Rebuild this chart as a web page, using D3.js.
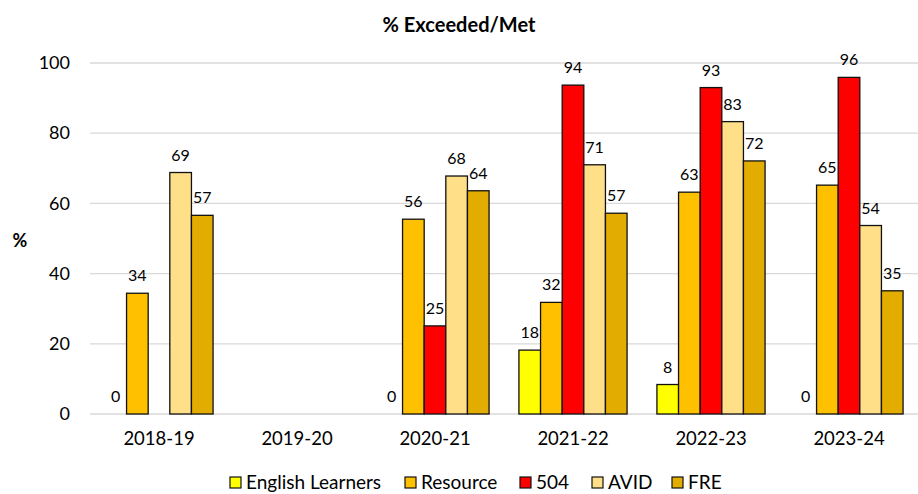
<!DOCTYPE html>
<html><head><meta charset="utf-8">
<script src="https://cdn.jsdelivr.net/npm/d3@7"></script>
<style>body{margin:0;background:#fff;} svg{display:block;font-family:Lato,"Open Sans",sans-serif;}</style>
</head><body>
<svg id="chart" width="918" height="494"></svg>
<script>
const categories = ["2018-19","2019-20","2020-21","2021-22","2022-23","2023-24"];
const seriesNames = ["English Learners","Resource","504","AVID","FRE"];
const seriesColors = ["#FFFF00","#FFC000","#FF0000","#FFDF88","#E3AC00"];
const englishLearners = [0, null, 0, 18.2, 8.4, 0];
const resource = [34.4, null, 55.5, 31.8, 63.2, 65.2];
const s504 = [null, null, 25.1, 93.7, 93.0, 95.9];
const avid = [68.8, null, 67.8, 71.0, 83.3, 53.7];
const fre = [56.6, null, 63.6, 57.2, 72.1, 35.1];
const seriesValues = [englishLearners, resource, s504, avid, fre];
const yTicks = [0,20,40,60,80,100];

const svg = d3.select("#chart");
const mLeft = 90, mRight = 918, mTop = 63, mBottom = 414;
const x0 = d3.scaleBand().domain(categories).range([mLeft, mRight]).padding(0);
const x1 = d3.scaleBand().domain(seriesNames).range([0, x0.bandwidth()]).paddingInner(0).paddingOuter(0.69);
const y = d3.scaleLinear().domain([0,100]).range([mBottom, mTop]);

// gridlines
svg.append("g").selectAll("line").data(yTicks).join("line")
  .attr("x1", mLeft).attr("x2", mRight)
  .attr("y1", d => y(d)).attr("y2", d => y(d))
  .attr("stroke", "#d9d9d9").attr("stroke-width", 1.3);

// y axis labels
const yAxis = svg.append("g").attr("transform", `translate(${mLeft},0)`)
  .call(d3.axisLeft(y).tickValues(yTicks).tickSize(0).tickPadding(20));
yAxis.select(".domain").remove();
yAxis.selectAll("text").attr("font-size", 18).attr("fill", "#000").attr("font-family", "Lato, sans-serif");

// x axis labels
const xAxis = svg.append("g").attr("transform", `translate(0,${mBottom})`)
  .call(d3.axisBottom(x0).tickSize(0).tickPadding(18));
xAxis.select(".domain").remove();
xAxis.selectAll("text").attr("font-size", 18.5).attr("fill", "#000").attr("font-family", "Lato, sans-serif");

// bars
const flat = [];
categories.forEach((c, ci) => {
  seriesNames.forEach((s, si) => {
    const v = seriesValues[si][ci];
    if (v !== null) flat.push({c, s, si, v});
  });
});
svg.append("g").selectAll("rect").data(flat.filter(d => d.v > 0)).join("rect")
  .attr("x", d => x0(d.c) + x1(d.s))
  .attr("y", d => y(d.v))
  .attr("width", x1.bandwidth())
  .attr("height", d => y(0) - y(d.v))
  .attr("fill", d => seriesColors[d.si])
  .attr("stroke", "#111").attr("stroke-width", 1.3);

// labels
svg.append("g").selectAll("text").data(flat).join("text")
  .attr("x", d => x0(d.c) + x1(d.s) + x1.bandwidth()/2)
  .attr("y", d => y(d.v) - 12)
  .attr("text-anchor", "middle")
  .attr("font-size", 16).attr("fill", "#000")
  .text(d => Math.round(d.v));

// title
svg.append("text").attr("x", 459).attr("y", 32).attr("text-anchor", "middle")
  .attr("font-size", 20).attr("font-weight", "bold").text("% Exceeded/Met");

// y label
svg.append("text").attr("x", 20).attr("y", 247).attr("text-anchor", "middle")
  .attr("font-size", 18).attr("font-weight", "bold").text("%");

// legend
const legendX = [230, 405, 520, 592, 672];
const lg = svg.append("g").selectAll("g").data(seriesNames).join("g")
  .attr("transform", (d,i) => `translate(${legendX[i]},477)`);
lg.append("rect").attr("width", 11).attr("height", 11)
  .attr("fill", (d,i) => seriesColors[i]).attr("stroke", "#111").attr("stroke-width", 1.2);
lg.append("text").attr("x", 16).attr("y", 12).attr("font-size", 19).attr("fill", "#000").text(d => d);
</script>
</body></html>
